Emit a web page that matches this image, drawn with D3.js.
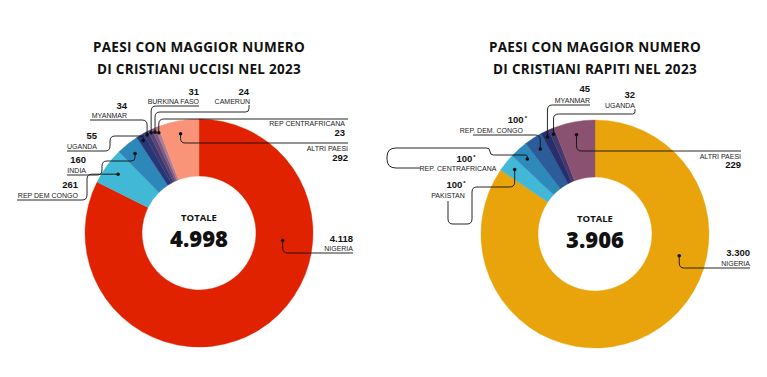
<!DOCTYPE html>
<html>
<head>
<meta charset="utf-8">
<script src="https://cdn.jsdelivr.net/npm/d3@7"></script>
<style>
  body { margin: 0; background: #fff; }
  svg { display: block; }
</style>
</head>
<body>
<div id="chart"></div>
<script>
// Data: killed
var killedCountries = ["NIGERIA", "REP DEM CONGO", "INDIA", "UGANDA", "MYANMAR", "BURKINA FASO", "CAMERUN", "REP CENTRAFRICANA", "ALTRI PAESI"];
var killedValues = [4118, 261, 160, 55, 34, 31, 24, 23, 292];
var killedColors = ["#e12200", "#41b8d6", "#2d87b9", "#263676", "#3a3770", "#5a4576", "#7e5b86", "#b07c90", "#f99478"];

// Data: kidnapped
var kidnappedCountries = ["NIGERIA", "PAKISTAN", "REP. CENTRAFRICANA", "REP. DEM. CONGO", "MYANMAR", "UGANDA", "ALTRI PAESI"];
var kidnappedValues = [3300, 100, 100, 100, 45, 32, 229];
var kidnappedEstimated = [false, true, true, true, false, false, false];
var kidnappedColors = ["#e9a40c", "#41b8d6", "#2d8abb", "#2c5d9a", "#272f6b", "#45386d", "#8a5171"];

var titles = [
    ["PAESI CON MAGGIOR NUMERO", "DI CRISTIANI UCCISI NEL 2023"],
    ["PAESI CON MAGGIOR NUMERO", "DI CRISTIANI RAPITI NEL 2023"]
];

// Label layout (annotation positions), one per slice
// ang: dot angle override (deg), dr: dot radius, tx/vy/ny: text, path: leader waypoints
var killedLayout = [
    {ang: 95, dr: 84, vx: 353, nx: 353, vy: 242, ny: 251, path: [{y: 253}, {x: 353}]},
    {dr: 100, vx: 78, nx: 78, vy: 188, ny: 198, path: [{x: 87}, {y: 200}, {x: 17}]},
    {dr: 102, vx: 86, nx: 86, vy: 163, ny: 173, path: [{y: 161}, {x: 102}, {y: 175}, {x: 67}]},
    {dr: 108, vx: 97, nx: 97, vy: 139, ny: 149, path: [{y: 136}, {x: 110}, {y: 151}, {x: 67}]},
    {dr: 111, vx: 127, nx: 127, vy: 109, ny: 118, path: [{y: 120}, {x: 90}]},
    {dr: 111, vx: 199, nx: 199, vy: 95, ny: 104, path: [{y: 106}, {x: 199}]},
    {dr: 110, vx: 249, nx: 250, vy: 95, ny: 104, path: [{y: 112}, {x: 249}, {y: 105}]},
    {dr: 108, vx: 345, nx: 345, vy: 136, ny: 126, path: [{y: 119}, {x: 348}]},
    {dr: 101, vx: 348, nx: 348, vy: 161, ny: 151, path: [{y: 143}, {x: 348}]}
];

var kidnappedLayout = [
    {ang: 104.5, dr: 87, vx: 750, nx: 750, vy: 256, ny: 266, path: [{y: 268}, {x: 750}]},
    {dr: 103, anchor: "middle", vx: 456, nx: 448, vy: 188, ny: 198, path: [{y: 187}, {x: 472}, {y: 224}, {x: 448}, {y: 201}]},
    {dr: 101, anchor: "middle", vx: 466, nx: 458, vy: 162, ny: 170.5, path: [{y: 155}, {x: 490}, {y: 148}, {x: 387, r: 9}, {y: 168, r: 9}, {x: 420}]},
    {dr: 101, vx: 527, nx: 523, vy: 123, ny: 133, path: [{y: 135}, {x: 473}]},
    {dr: 108, vx: 590, nx: 590, vy: 92, ny: 103, path: [{y: 105}, {x: 590}]},
    {dr: 108, vx: 635, nx: 635, vy: 98, ny: 107.5, path: [{y: 114}, {x: 635}, {y: 109}]},
    {dr: 101, vx: 741, nx: 741, vy: 168, ny: 159, path: [{y: 151}, {x: 741}]}
];

// Chart dimensions
var width = 767;
var height = 377;
var outerR = 114;
var innerR = 57;

var it = d3.formatLocale({decimal: ",", thousands: ".", grouping: [3], currency: ["€", ""]});
var fmt = it.format(",d");

var svg = d3.select("#chart").append("svg")
    .attr("width", width)
    .attr("height", height);

svg.append("rect").attr("width", width).attr("height", height).attr("fill", "#fff");

var pie = d3.pie().sort(null).value(function(d) { return d.value; });
var arc = d3.arc().innerRadius(innerR).outerRadius(outerR);

// rounded polyline for the leader lines
function leader(points, rad) {
    var p = "M" + points[0][0] + "," + points[0][1];
    for (var i = 1; i < points.length - 1; i++) {
        var a = points[i - 1], b = points[i], c = points[i + 1];
        var r = b[2] || rad;
        var d1 = Math.hypot(a[0] - b[0], a[1] - b[1]);
        var d2 = Math.hypot(c[0] - b[0], c[1] - b[1]);
        var rr = Math.min(r, d1 / 2, d2 / 2);
        if (rr < 0.01) { p += "L" + b[0] + "," + b[1]; continue; }
        var s = [b[0] + (a[0] - b[0]) / d1 * rr, b[1] + (a[1] - b[1]) / d1 * rr];
        var e = [b[0] + (c[0] - b[0]) / d2 * rr, b[1] + (c[1] - b[1]) / d2 * rr];
        p += "L" + s[0] + "," + s[1] + "Q" + b[0] + "," + b[1] + " " + e[0] + "," + e[1];
    }
    var last = points[points.length - 1];
    p += "L" + last[0] + "," + last[1];
    return p;
}

function drawDonut(cx, cy, title, countries, values, colors, estimated, layout) {
    var data = countries.map(function(c, i) {
        return {name: c, value: values[i], color: colors[i], est: estimated ? estimated[i] : false, lay: layout[i]};
    });

    var g = svg.append("g").attr("transform", "translate(" + cx + "," + cy + ")");

    g.selectAll("path.slice")
        .data(pie(data))
        .enter()
        .append("path")
        .attr("class", "slice")
        .attr("d", arc)
        .attr("fill", function(d) { return d.data.color; })
        .attr("stroke", function(d) { return d.data.color; })
        .attr("stroke-width", 0.4);

    // title
    title.forEach(function(line, i) {
        svg.append("text")
            .attr("x", cx)
            .attr("y", 52 + i * 21.5)
            .attr("text-anchor", "middle")
            .style("font-family", "'Open Sans', sans-serif")
            .style("font-weight", 700)
            .style("font-size", "13.5px")
            .style("letter-spacing", "0.3px")
            .attr("fill", "#111")
            .text(line);
    });

    // centre total
    g.append("text")
        .attr("y", -12)
        .attr("text-anchor", "middle")
        .style("font-family", "'Open Sans', sans-serif")
        .style("font-weight", 700)
        .style("font-size", "9.5px")
        .attr("fill", "#111")
        .text("TOTALE");
    g.append("text")
        .attr("y", 14)
        .attr("text-anchor", "middle")
        .style("font-family", "'Open Sans', sans-serif")
        .style("font-weight", 800)
        .style("font-size", "22px")
        .attr("fill", "#111")
        .text(fmt(d3.sum(values)));

    // labels
    var ann = svg.append("g");
    pie(data).forEach(function(d) {
        var L = d.data.lay;
        var a = L.ang !== undefined ? L.ang * Math.PI / 180 : (d.startAngle + d.endAngle) / 2;
        var dot = [cx + L.dr * Math.sin(a), cy - L.dr * Math.cos(a)];
        var pts = [dot];
        L.path.forEach(function(w) {
            var prev = pts[pts.length - 1];
            pts.push([w.x !== undefined ? w.x : prev[0], w.y !== undefined ? w.y : prev[1], w.r]);
        });
        ann.append("path")
            .attr("d", leader(pts, 5))
            .attr("fill", "none")
            .attr("stroke", "#111")
            .attr("stroke-width", 0.9);
        ann.append("circle")
            .attr("cx", dot[0]).attr("cy", dot[1]).attr("r", 1.8)
            .attr("fill", "#111");

        var anchor = L.anchor || "end";
        var vt = ann.append("text")
            .attr("x", L.vx).attr("y", L.vy)
            .attr("text-anchor", anchor)
            .style("font-family", "'Liberation Sans', Arial, sans-serif")
            .style("font-weight", 700)
            .style("font-size", "9.5px")
            .attr("fill", "#111")
            .text(fmt(d.data.value));
        if (d.data.est) {
            vt.append("tspan")
                .attr("dy", -3)
                .attr("dx", 1)
                .style("font-size", "6px")
                .text("*");
        }
        ann.append("text")
            .attr("x", L.nx).attr("y", L.ny)
            .attr("text-anchor", anchor)
            .style("font-family", "'Liberation Sans', Arial, sans-serif")
            .style("font-size", "7px")
            .attr("fill", "#222")
            .text(d.data.name);
    });
}

drawDonut(199, 233, titles[0], killedCountries, killedValues, killedColors, null, killedLayout);
drawDonut(595, 234, titles[1], kidnappedCountries, kidnappedValues, kidnappedColors, kidnappedEstimated, kidnappedLayout);
</script>
</body>
</html>
